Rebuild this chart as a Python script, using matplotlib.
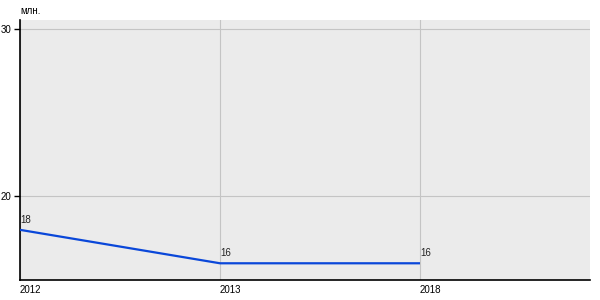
import matplotlib
matplotlib.use("Agg")
import matplotlib.pyplot as plt

years = ["2012", "2013", "2018"]
values = [18, 16, 16]
unit = "млн."
yticks = [20, 30]

plt.rcParams['font.family'] = ['Liberation Sans', 'DejaVu Sans']

fig = plt.figure(figsize=(6, 3), dpi=100)
ax = fig.add_axes([20/600, 20/300, 570/600, 260/300])
ax.set_facecolor('#ebebeb')
x = list(range(len(years)))
ax.plot(x, values, color='#0a47d9', lw=1.6, solid_capstyle='butt', zorder=3)
for xi, v in zip(x, values):
    ax.annotate(str(v), (xi, v), xytext=(0, 3.5), textcoords='offset points',
                ha='left', va='bottom', fontsize=7, color='#222222')
ax.set_xlim(0, 2.85)
ax.set_ylim(15, 30.55)
ax.set_yticks(yticks)
ax.set_yticklabels([str(t) for t in yticks], fontsize=7)
ax.set_xticks(x)
ax.set_xticklabels(years, fontsize=7, ha='left')
ax.tick_params(axis='x', length=0, pad=3.5)
ax.tick_params(axis='y', length=4, width=1, pad=2, color='black')
ax.grid(True, color='#c4c4c4', lw=0.8)
ax.set_axisbelow(True)
for s in ['top', 'right']:
    ax.spines[s].set_visible(False)
for s in ['left', 'bottom']:
    ax.spines[s].set_color('black')
    ax.spines[s].set_linewidth(1.2)
fig.text(20/600, 1 - 11.5/300, unit, fontsize=7, ha='left', va='center')
fig.savefig('out.png', dpi=100)
